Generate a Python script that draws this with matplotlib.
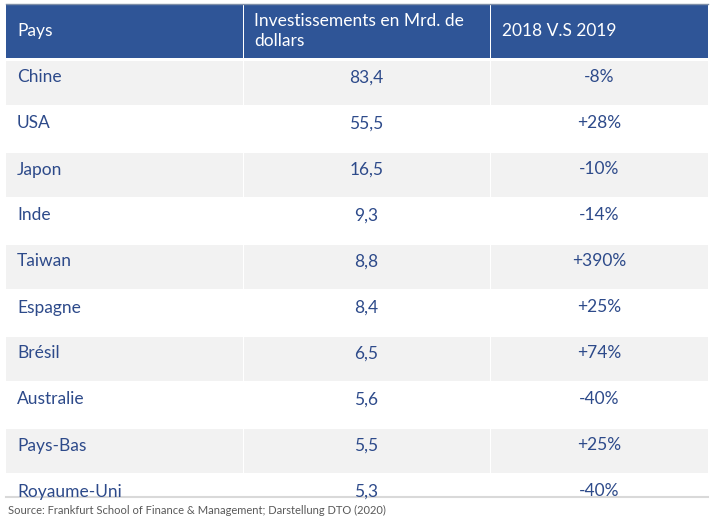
import matplotlib
matplotlib.use("Agg")
import matplotlib.pyplot as plt
from matplotlib.patches import Rectangle

pays = ["Chine", "USA", "Japon", "Inde", "Taiwan", "Espagne", "Brésil",
        "Australie", "Pays-Bas", "Royaume-Uni"]
investissements = ["83,4", "55,5", "16,5", "9,3", "8,8", "8,4", "6,5", "5,6", "5,5", "5,3"]
variation = ["-8%", "+28%", "-10%", "-14%", "+390%", "+25%", "+74%", "-40%", "+25%", "-40%"]
headers = ["Pays", "Investissements en Mrd. de\ndollars", "2018 V.S 2019"]
source = "Source: Frankfurt School of Finance & Management; Darstellung DTO (2020)"

W, H = 712, 530
fig = plt.figure(figsize=(W / 100, H / 100), dpi=100)
ax = fig.add_axes([0, 0, 1, 1])
ax.set_xlim(0, W)
ax.set_ylim(H, 0)
ax.axis("off")

FONT = ["Lato", "DejaVu Sans"]
HEAD_BG = "#2F5597"
ROW_BG = "#F2F2F2"
TXT = "#2D4A8A"
col_edges = [6, 243, 490, 708]
head_top, head_bot = 4, 58
row_top0, row_h = 59.5, 46
cut = 497
gap = 1.0
fs = 12.5

# header
for i in range(3):
    ax.add_patch(Rectangle((col_edges[i] + (gap if i else 0), head_top),
                           col_edges[i + 1] - col_edges[i] - (gap if i else 0),
                           head_bot - head_top, facecolor=HEAD_BG, edgecolor="none"))
ax.plot([col_edges[0], col_edges[-1]], [head_top, head_top], color="#7F8FA8", lw=1)
ax.text(17, 31, headers[0], color="white", fontsize=fs, family=FONT, va="center", ha="left")
ax.text(254, 31, headers[1], color="white", fontsize=fs, family=FONT, va="center", ha="left",
        linespacing=1.25)
ax.text(502, 31, headers[2], color="white", fontsize=fs, family=FONT, va="center", ha="left")

clip = Rectangle((0, 0), W, cut, transform=ax.transData)

for r, (p, v, c) in enumerate(zip(pays, investissements, variation)):
    top = row_top0 + r * row_h
    if r % 2 == 0:
        for i in range(3):
            x0 = col_edges[i] + (gap if i else 0)
            ax.add_patch(Rectangle((x0, top + gap), col_edges[i + 1] - x0,
                                   row_h - 2 * gap, facecolor=ROW_BG, edgecolor="none"))
    yt = top + 18
    for x, s, ha in [(17, p, "left"),
                     ((col_edges[1] + col_edges[2]) / 2, v, "center"),
                     ((col_edges[2] + col_edges[3]) / 2, c, "center")]:
        t = ax.text(x, yt, s, color=TXT, fontsize=fs, family=FONT, va="center", ha=ha)
        t.set_clip_path(clip)

ax.plot([col_edges[0], col_edges[-1]], [cut, cut], color="#D9D9D9", lw=1.5)
ax.text(8, 510, source, color="#595959", fontsize=8.0, family=FONT, va="center", ha="left")

fig.savefig("out.png", dpi=100)
